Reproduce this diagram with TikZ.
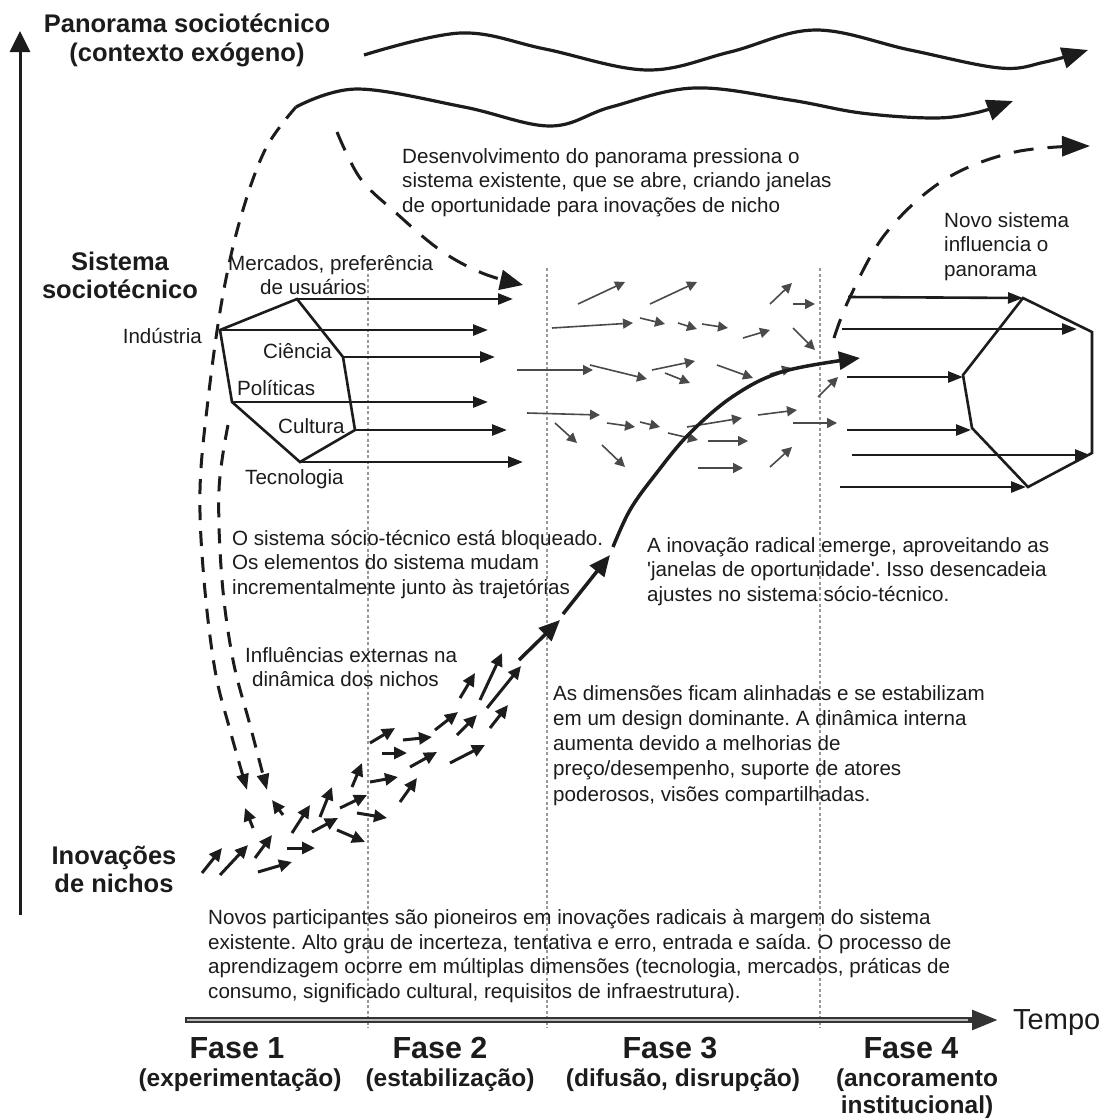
\documentclass[tikz,border=0pt]{standalone}
\usepackage{fontspec}
\setmainfont{Liberation Sans}
\usetikzlibrary{arrows.meta}
\definecolor{ink}{HTML}{1C1C1C}
\definecolor{midgray}{HTML}{4A4A4A}
\newcommand{\fstrut}{\rule{0pt}{16pt}}
\newcommand{\bstrut}{\rule{0pt}{20pt}}
\frenchspacing
\begin{document}
\begin{tikzpicture}[x=1pt,y=-1pt,
  bodytext/.style={font=\fontsize{20.6}{24.5}\selectfont, inner sep=0pt, text=ink},
  headtext/.style={font=\bfseries\fontsize{25.5}{29}\selectfont, inner sep=0pt, align=center, anchor=north, text=ink},
  fasetext/.style={font=\bfseries\fontsize{30.5}{34}\selectfont, inner sep=0pt, anchor=base, text=ink},
  subtext/.style={font=\bfseries\fontsize{24.5}{27}\selectfont, inner sep=0pt, text=ink},
  phaseline/.style={line width=1.2pt, draw=gray!80, dash pattern=on 3pt off 2.5pt},
  axisline/.style={line width=3pt, draw=ink, -{Triangle[length=21pt,width=20pt]}},
  wavearrow/.style={line width=3.2pt, draw=ink, -{Triangle[length=26pt,width=21pt]}},
  dasharc/.style={line width=3pt, draw=ink, dash pattern=on 15pt off 11pt},
  dasharclong/.style={line width=3pt, draw=ink, dash pattern=on 20pt off 14pt},
  hexline/.style={line width=2.6pt, draw=ink, line join=miter},
  hexarrow/.style={line width=2.6pt, draw=ink, -{Triangle[length=15pt,width=11pt]}},
  midarrow/.style={line width=1.6pt, draw=midgray, -{Triangle[length=10pt,width=10pt]}},
  nicharrow/.style={line width=3pt, draw=ink, -{Triangle[length=13pt,width=12pt]}},
  bigarrow/.style={line width=3.5pt, draw=ink, -{Triangle[length=21pt,width=18pt]}}
]
\useasboundingbox (0,0) rectangle (1107,1119);
\fill[white] (0,0) rectangle (1107,1119);

% phase dividers
\foreach \x in {368,547,820} \draw[phaseline] (\x,268) -- (\x,1028);

% axes
\coordinate (yb) at (20,915);
\coordinate (yt) at (20,31);
\draw[axisline] (yb) -- (yt);
\coordinate (ta) at (185,1020);
\coordinate (tb) at (998,1020);
\draw[line width=5.5pt, draw=ink!90, -{Triangle[length=26pt,width=19pt]}] (ta) -- (tb);
\draw[line width=1.6pt, draw=gray!55] (187,1020) -- (968,1020);

% landscape waves
\draw[wavearrow] plot[smooth, tension=0.6] coordinates {(364,55) (461,33) (545,49) (647,70) (730,52) (815,30) (910,50) (1000,68) (1045,62) (1088,50)};
\draw[wavearrow] plot[smooth, tension=0.6] coordinates {(296,107) (357,89) (464,107) (550,126) (611,107) (694,88) (790,100) (861,113) (933,118) (975,113) (1013,101)};

% dashed influences
\draw[dasharc, -{Triangle[length=16pt,width=12pt]}] plot[smooth, tension=0.6] coordinates {(296,107) (265,150) (240,220) (222,300) (208,400) (200,490) (204,580) (215,670) (230,730) (247,790)};
\draw[dasharc, -{Triangle[length=16pt,width=12pt]}] plot[smooth, tension=0.6] coordinates {(228,425) (219,490) (222,580) (233,660) (250,725) (267,790)};
\draw[dasharclong, -{Triangle[length=23pt,width=20pt]}] plot[smooth, tension=0.6] coordinates {(337,132) (360,178) (395,212) (440,250) (482,273) (523,285)};
\draw[dasharclong, -{Triangle[length=28pt,width=20pt]}] plot[smooth, tension=0.6] coordinates {(834,338) (850,297) (886,233) (944,180) (1015,152) (1090,146)};

% current regime hexagon
\coordinate (Ind) at (220,330);
\coordinate (Mer) at (297,299);
\coordinate (Cie) at (343,357);
\coordinate (Cul) at (355,430);
\coordinate (Tec) at (300,462);
\coordinate (Pol) at (232,402);
\draw[hexline] (Ind) -- (Mer) -- (Cie) -- (Cul) -- (Tec) -- (Pol) -- cycle;
\draw[hexarrow] (Mer) -- (513,299);
\draw[hexarrow] (Ind) -- (488,330);
\draw[hexarrow] (Cie) -- (495,357);
\draw[hexarrow] (Pol) -- (488,402);
\draw[hexarrow] (Cul) -- (507,430);
\draw[hexarrow] (Tec) -- (523,462);

% new regime hexagon
\coordinate (T) at (1023,298);
\coordinate (RT) at (1092,332);
\coordinate (RB) at (1092,453);
\coordinate (B) at (1028,487);
\coordinate (LB) at (972,428);
\coordinate (L) at (963,375);
\draw[hexline] (T) -- (RT) -- (RB) -- (B) -- (LB) -- (L) -- cycle;
\draw[hexarrow] (848,297) -- (T);
\draw[hexarrow] (842,329) -- (1077,329);
\draw[hexarrow] (847,377) -- (963,377);
\draw[hexarrow] (847,430) -- (971,430);
\draw[hexarrow] (852,455) -- (1090,455);
\draw[hexarrow] (840,487) -- (1026,487);

% phase 2-3 disarray arrows
\foreach \a/\b/\c/\d in {578/304/625/282, 650/304/697/282, 770/304/792/283, 793/304/815/304,
  552/328/633/323, 640/318/665/324, 678/323/697/329, 702/324/728/328, 743/338/770/330, 793/328/815/350,
  517/370/593/370, 590/365/647/379, 652/370/695/361, 665/373/690/383, 717/365/753/378,
  527/413/600/415, 555/423/577/443, 607/423/635/427, 640/422/660/427, 668/433/698/440,
  602/445/625/467, 687/427/742/418, 708/441/748/441, 698/468/743/468, 758/415/797/410,
  793/423/837/423, 770/467/792/447, 818/397/838/377, 770/374/792/368}
  \draw[midarrow] (\a,\b) -- (\c,\d);

% niche arrows
\foreach \a/\b/\c/\d in {202/873/222/848, 220/875/248/845, 255/858/272/835, 258/872/292/862,
  287/848/315/848, 292/833/310/805, 253/828/245/808, 283/815/272/800, 312/832/338/818,
  320/817/332/787, 337/830/365/842, 340/808/367/795, 352/787/362/763, 357/813/387/818,
  370/743/395/728, 382/753/407/753, 370/782/398/777, 400/802/417/778, 403/740/432/737,
  410/767/437/752, 435/730/458/712, 450/763/485/745, 457/735/477/715, 490/728/508/705,
  460/698/475/673, 480/700/502/653, 487/708/521/666}
  \draw[nicharrow] (\a,\b) -- (\c,\d);

% radical innovation trajectory
\draw[bigarrow] (519,660) -- (560,620);
\draw[bigarrow] (563,614) -- (610,555);
\draw[bigarrow] plot[smooth, tension=0.6] coordinates {(613,547) (630,510) (655,475) (690,433) (735,395) (785,371) (860,358)};

% labels
\node[headtext] (pan) at (187,12) {\bstrut Panorama sociotécnico\\(contexto exógeno)};
\node[headtext, font=\bfseries\fontsize{25.5}{28}\selectfont] (sis) at (120,250) {\bstrut Sistema\\sociotécnico};
\node[headtext, font=\bfseries\fontsize{25.5}{28}\selectfont] (ino) at (114,844) {\bstrut Inovações\\de nichos};

\node[bodytext, anchor=north west, align=left] (mer) at (228,254) {\fstrut Mercados, preferência\\\hspace*{32pt}de usuários};
\node[bodytext, anchor=base east] (ind) at (202,343) {Indústria};
\node[bodytext, anchor=base west] (cie) at (263,358) {Ciência};
\node[bodytext, anchor=base west] (pol) at (237,395) {Políticas};
\node[bodytext, anchor=base west] (cul) at (278,433) {Cultura};
\node[bodytext, anchor=base west] (tec) at (245,484) {Tecnologia};

\node[bodytext, anchor=north west, align=left] (des) at (402,147) {\fstrut Desenvolvimento do panorama pressiona o\\sistema existente, que se abre, criando janelas\\de oportunidade para inovações de nicho};
\node[bodytext, anchor=north west, align=left] (nov) at (944,211) {\fstrut Novo sistema\\influencia o\\panorama};
\node[bodytext, anchor=north west, align=left] (blo) at (232,529) {\fstrut O sistema sócio-técnico está bloqueado.\\Os elementos do sistema mudam\\incrementalmente junto às trajetórias};
\node[bodytext, anchor=north west, align=left] (rad) at (647,536) {\fstrut A inovação radical emerge, aproveitando as\\\textquotesingle janelas de oportunidade\textquotesingle. Isso desencadeia\\ajustes no sistema sócio-técnico.};
\node[bodytext, anchor=north west, align=left] (inf) at (245,646) {\fstrut Influências externas na\\\hspace*{7pt}dinâmica dos nichos};
\node[bodytext, anchor=north west, align=left, font=\fontsize{20.6}{25.2}\selectfont] (dim) at (553,684) {\fstrut As dimensões ficam alinhadas e se estabilizam\\em um design dominante. A dinâmica interna\\aumenta devido a melhorias de\\preço/desempenho, suporte de atores\\poderosos, visões compartilhadas.};
\node[bodytext, anchor=north west, align=left, font=\fontsize{20.6}{24.8}\selectfont] (par) at (208,908) {\fstrut Novos participantes são pioneiros em inovações radicais à margem do sistema\\existente. Alto grau de incerteza, tentativa e erro, entrada e saída. O processo de\\aprendizagem ocorre em múltiplas dimensões (tecnologia, mercados, práticas de\\consumo, significado cultural, requisitos de infraestrutura).};

\node[bodytext, anchor=base west, font=\fontsize{29}{32}\selectfont] (tempo) at (1013,1029) {Tempo};

\node[fasetext] (f1) at (237,1058) {Fase 1};
\node[fasetext] (f2) at (440,1058) {Fase 2};
\node[fasetext] (f3) at (670,1058) {Fase 3};
\node[fasetext] (f4) at (911,1058) {Fase 4};
\node[subtext, anchor=base] (s1) at (240,1086) {(experimentação)};
\node[subtext, anchor=base] (s2) at (450,1086) {(estabilização)};
\node[subtext, anchor=base] (s3) at (683,1086) {(difusão, disrupção)};
\node[subtext, anchor=north, align=center] (s4) at (917,1067) {\rule{0pt}{19pt}(ancoramento\\institucional)};
\end{tikzpicture}
\end{document}
